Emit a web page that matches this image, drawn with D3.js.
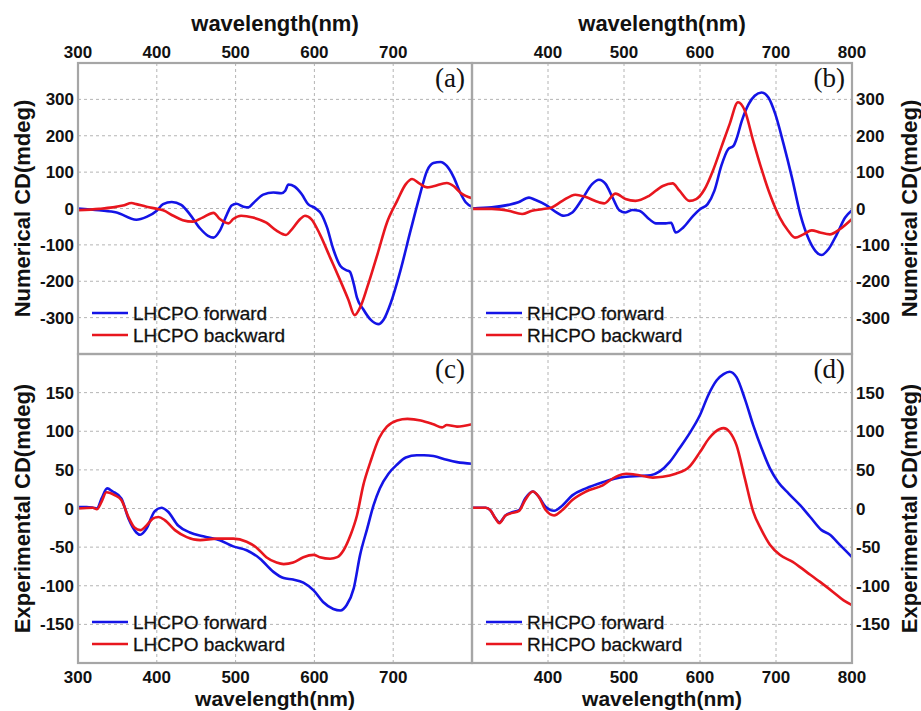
<!DOCTYPE html>
<html>
<head>
<meta charset="utf-8">
<script src="https://cdn.jsdelivr.net/npm/d3@7"></script>
<style>
  body { margin: 0; background: #fff; }
  svg { display: block; font-family: "Liberation Sans", Arial, sans-serif; }
</style>
</head>
<body>
<svg id="chart" width="921" height="711"></svg>
<script>
// wavelength (nm) / CD (mdeg) pairs
const aForward = [[300,0],[327,-5],[349,-11],[374,-31],[387,-23],[400,-6],[408,12],[419,18],[431,10],[442,-16],[455,-55],[465,-75],[472,-80],[480,-61],[489,-16],[495,8],[501,13],[510,5],[516,3],[522,14],[535,38],[548,44],[558,42],[563,49],[567,66],[575,60],[584,39],[592,12],[601,1],[609,-16],[616,-52],[624,-112],[633,-158],[641,-170],[645,-174],[650,-208],[654,-245],[662,-277],[671,-305],[681,-318],[688,-305],[697,-259],[709,-172],[722,-61],[733,30],[743,104],[751,125],[760,128],[768,117],[777,85],[785,44],[792,17],[800,5]];
const aBackward = [[300,-5],[327,-1],[344,3],[357,8],[368,15],[374,12],[387,5],[400,-1],[408,-5],[421,-20],[433,-32],[446,-36],[458,-25],[472,-12],[480,-29],[491,-41],[497,-29],[507,-20],[522,-25],[539,-39],[552,-61],[564,-73],[570,-61],[582,-29],[588,-20],[596,-29],[607,-71],[620,-135],[633,-199],[643,-250],[651,-293],[658,-272],[667,-217],[680,-126],[692,-39],[705,21],[716,67],[724,81],[733,69],[743,58],[751,61],[768,70],[777,61],[785,44],[800,28]];
const bForward = [[300,0],[326,3],[348,10],[361,17],[375,30],[383,24],[397,10],[410,-9],[421,-20],[432,-11],[445,26],[458,67],[467,79],[476,67],[485,30],[494,-5],[502,-11],[511,-4],[520,-6],[533,-29],[542,-41],[555,-41],[562,-39],[568,-66],[578,-52],[591,-20],[600,-2],[610,12],[619,49],[628,117],[637,163],[644,172],[648,191],[655,241],[664,287],[672,310],[681,319],[690,305],[699,260],[710,177],[721,85],[732,-16],[743,-84],[752,-117],[760,-128],[769,-112],[780,-71],[791,-25],[800,-5]];
const bBackward = [[300,-1],[326,-1],[348,-6],[366,-15],[379,-6],[392,-2],[405,3],[419,21],[436,38],[449,32],[467,17],[474,14],[489,41],[502,26],[515,21],[533,35],[551,62],[564,69],[573,49],[586,21],[595,26],[606,53],[617,104],[628,168],[639,232],[650,292],[659,269],[670,186],[681,108],[692,39],[705,-25],[716,-61],[725,-80],[736,-71],[747,-60],[758,-66],[771,-71],[784,-57],[800,-29]];
const cForward = [[300,2],[311,2],[319,1],[324,0],[330,13],[337,26],[344,22],[355,13],[364,-13],[374,-31],[379,-34],[387,-26],[397,-4],[406,1],[414,-4],[427,-22],[442,-31],[459,-36],[480,-41],[497,-49],[514,-54],[531,-65],[548,-82],[561,-90],[573,-92],[586,-96],[599,-106],[611,-121],[624,-130],[633,-132],[641,-125],[650,-103],[658,-60],[667,-26],[675,4],[683,26],[694,45],[705,57],[716,66],[730,69],[739,69],[751,68],[768,63],[781,60],[800,58]];
const cBackward = [[300,0],[319,1],[324,-1],[330,9],[336,21],[347,17],[355,11],[364,-11],[372,-25],[379,-28],[387,-22],[395,-13],[402,-11],[410,-15],[423,-28],[438,-37],[455,-41],[476,-39],[497,-39],[514,-43],[527,-51],[539,-63],[552,-70],[561,-72],[573,-70],[586,-63],[599,-60],[607,-63],[620,-65],[629,-63],[637,-54],[646,-34],[654,-9],[662,30],[671,60],[682,91],[692,106],[705,114],[718,116],[735,114],[751,109],[762,105],[768,108],[781,106],[800,109]];
const dForward = [[300,1],[318,1],[324,-2],[331,-13],[336,-18],[344,-9],[352,-5],[362,-2],[370,13],[380,22],[388,15],[397,2],[408,-3],[419,4],[432,17],[450,26],[472,34],[489,39],[503,41],[520,42],[535,43],[547,48],[560,60],[573,78],[586,97],[600,121],[611,147],[622,166],[631,174],[639,177],[648,170],[659,142],[670,108],[681,78],[692,52],[703,34],[717,19],[732,4],[745,-11],[760,-28],[771,-34],[784,-47],[800,-63]];
const dBackward = [[300,1],[318,1],[324,-2],[331,-13],[336,-19],[344,-9],[352,-6],[362,-3],[370,11],[380,22],[388,15],[397,-2],[408,-9],[419,-2],[432,11],[450,22],[472,30],[489,41],[503,45],[520,43],[538,40],[551,41],[568,45],[586,54],[600,73],[612,91],[626,103],[631,104],[639,99],[648,82],[659,39],[670,-4],[681,-28],[692,-47],[705,-60],[722,-69],[740,-82],[758,-95],[775,-108],[789,-119],[800,-125]];

const xTicks = [300, 400, 500, 600, 700, 800];
const yTicksNum = [-300, -200, -100, 0, 100, 200, 300];
const yTicksExp = [-150, -100, -50, 0, 50, 100, 150];

const blue = '#1414e6';
const red = '#e8161e';

const svg = d3.select('#chart');

const panels = [
  {id: '(a)', x0: 78, x1: 472, y0: 63, y1: 354, dom: [-400, 400], ticks: yTicksNum, side: 'left', top: true,
   series: [aForward, aBackward], names: ['LHCPO forward', 'LHCPO backward']},
  {id: '(b)', x0: 472, x1: 852, y0: 63, y1: 354, dom: [-400, 400], ticks: yTicksNum, side: 'right', top: true,
   series: [bForward, bBackward], names: ['RHCPO forward', 'RHCPO backward']},
  {id: '(c)', x0: 78, x1: 472, y0: 354, y1: 663, dom: [-200, 200], ticks: yTicksExp, side: 'left', top: false,
   series: [cForward, cBackward], names: ['LHCPO forward', 'LHCPO backward']},
  {id: '(d)', x0: 472, x1: 852, y0: 354, y1: 663, dom: [-200, 200], ticks: yTicksExp, side: 'right', top: false,
   series: [dForward, dBackward], names: ['RHCPO forward', 'RHCPO backward']}
];

panels.forEach(function(p) {
  const x = d3.scaleLinear().domain([300, 800]).range([p.x0, p.x1]);
  const y = d3.scaleLinear().domain(p.dom).range([p.y1, p.y0]);
  const g = svg.append('g');

  // dashed grid
  g.selectAll('.vg').data(xTicks.slice(1, -1)).enter().append('line')
    .attr('x1', d => x(d)).attr('x2', d => x(d))
    .attr('y1', p.y0).attr('y2', p.y1)
    .attr('stroke', '#b4b4b4').attr('stroke-width', 1).attr('stroke-dasharray', '3,3');
  g.selectAll('.hg').data(p.ticks).enter().append('line')
    .attr('x1', p.x0).attr('x2', p.x1)
    .attr('y1', d => y(d)).attr('y2', d => y(d))
    .attr('stroke', '#b4b4b4').attr('stroke-width', 1).attr('stroke-dasharray', '3,3');

  // curves
  const line = d3.line().x(d => x(d[0])).y(d => y(d[1])).curve(d3.curveMonotoneX);
  g.selectAll('.curve').data(p.series).enter().append('path')
    .attr('d', line)
    .attr('fill', 'none')
    .attr('stroke', (d, i) => i === 0 ? blue : red)
    .attr('stroke-width', 2.6);

  // frame
  g.append('rect')
    .attr('x', p.x0).attr('y', p.y0)
    .attr('width', p.x1 - p.x0).attr('height', p.y1 - p.y0)
    .attr('fill', 'none').attr('stroke', '#a6a6a6').attr('stroke-width', 2.2);

  // y tick labels
  const left = p.side === 'left';
  g.selectAll('.yl').data(p.ticks).enter().append('text')
    .attr('x', left ? p.x0 - 4 : p.x1 + 4)
    .attr('y', d => y(d) + 6)
    .attr('text-anchor', left ? 'end' : 'start')
    .attr('font-size', 17).attr('font-weight', 'bold').attr('fill', '#111')
    .text(d => d);

  // y title
  const ty = (p.y0 + p.y1) / 2;
  const tx = left ? 22 : 909;
  g.append('text')
    .attr('transform', 'translate(' + tx + ',' + ty + ') rotate(-90)')
    .attr('text-anchor', 'middle').attr('dominant-baseline', 'central')
    .attr('font-size', 22).attr('font-weight', 'bold').attr('fill', '#111')
    .text(p.top ? 'Numerical CD(mdeg)' : 'Experimental CD(mdeg)');

  // x tick labels (shared edge label shown once)
  const xl = left ? xTicks.slice(0, -1) : xTicks.slice(1);
  g.selectAll('.xl').data(xl).enter().append('text')
    .attr('x', d => x(d))
    .attr('y', p.top ? 58 : 683)
    .attr('text-anchor', 'middle')
    .attr('font-size', 17).attr('font-weight', 'bold').attr('fill', '#111')
    .text(d => d);

  g.append('text')
    .attr('x', (p.x0 + p.x1) / 2)
    .attr('y', p.top ? 31 : 706)
    .attr('text-anchor', 'middle')
    .attr('font-size', p.top ? 22 : 21).attr('font-weight', 'bold').attr('fill', '#111')
    .text('wavelength(nm)');

  // panel label
  g.append('text')
    .attr('x', p.x1 - 7).attr('y', p.y0 + 24)
    .attr('text-anchor', 'end')
    .attr('font-family', '"Liberation Serif", "Times New Roman", serif')
    .attr('font-size', 27).attr('fill', '#111')
    .text(p.id);

  // legend
  p.names.forEach(function(name, i) {
    const ly = p.y1 - 41 + i * 22;
    g.append('line')
      .attr('x1', p.x0 + 14).attr('x2', p.x0 + 50)
      .attr('y1', ly).attr('y2', ly)
      .attr('stroke', i === 0 ? blue : red).attr('stroke-width', 2.6);
    g.append('text')
      .attr('x', p.x0 + 55).attr('y', ly + 7)
      .attr('font-size', 19).attr('fill', '#111')
      .attr('stroke', '#111').attr('stroke-width', 0.3)
      .text(name);
  });
});
</script>
</body>
</html>
